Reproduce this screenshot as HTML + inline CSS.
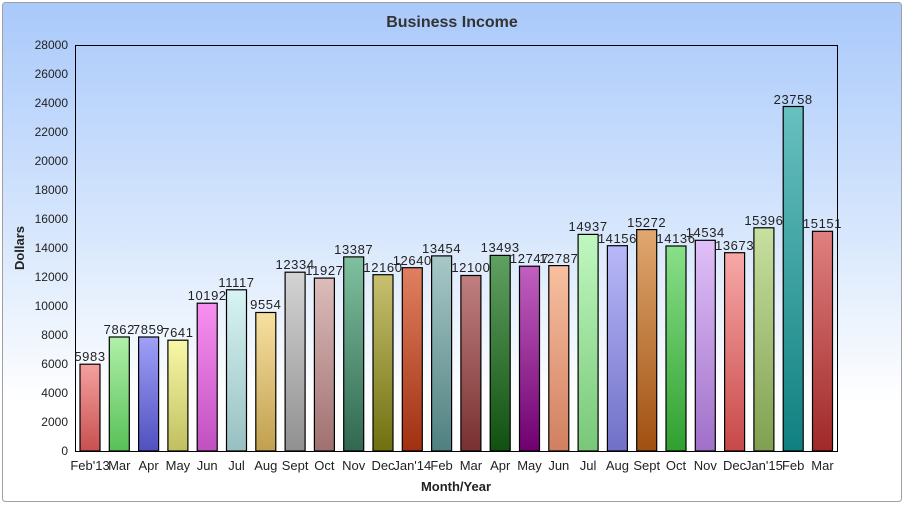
<!DOCTYPE html>
<html><head><meta charset="utf-8"><style>
html,body{margin:0;padding:0;background:#fff;}
svg{display:block;font-family:"Liberation Sans",sans-serif;}
</style></head><body>
<svg width="905" height="507" viewBox="0 0 905 507" xmlns="http://www.w3.org/2000/svg">
<defs>
<linearGradient id="bg" x1="0" y1="0" x2="0" y2="1">
<stop offset="0" stop-color="#a9c9fb"/><stop offset="0.45" stop-color="#d6e6fc"/><stop offset="0.8" stop-color="#ffffff"/><stop offset="1" stop-color="#ffffff"/>
</linearGradient>
<linearGradient id="g0" x1="0" y1="0" x2="0" y2="1"><stop offset="0" stop-color="#f4a0a0"/><stop offset="1" stop-color="#c85050"/></linearGradient>
<linearGradient id="g1" x1="0" y1="0" x2="0" y2="1"><stop offset="0" stop-color="#b0f0a8"/><stop offset="1" stop-color="#58c058"/></linearGradient>
<linearGradient id="g2" x1="0" y1="0" x2="0" y2="1"><stop offset="0" stop-color="#a0a0f8"/><stop offset="1" stop-color="#5050c0"/></linearGradient>
<linearGradient id="g3" x1="0" y1="0" x2="0" y2="1"><stop offset="0" stop-color="#f8f8a8"/><stop offset="1" stop-color="#c0c060"/></linearGradient>
<linearGradient id="g4" x1="0" y1="0" x2="0" y2="1"><stop offset="0" stop-color="#f890f0"/><stop offset="1" stop-color="#c050c0"/></linearGradient>
<linearGradient id="g5" x1="0" y1="0" x2="0" y2="1"><stop offset="0" stop-color="#d8f4f4"/><stop offset="1" stop-color="#98c0c0"/></linearGradient>
<linearGradient id="g6" x1="0" y1="0" x2="0" y2="1"><stop offset="0" stop-color="#f8e0a0"/><stop offset="1" stop-color="#c0a050"/></linearGradient>
<linearGradient id="g7" x1="0" y1="0" x2="0" y2="1"><stop offset="0" stop-color="#d4d4d4"/><stop offset="1" stop-color="#909090"/></linearGradient>
<linearGradient id="g8" x1="0" y1="0" x2="0" y2="1"><stop offset="0" stop-color="#dcbcbc"/><stop offset="1" stop-color="#a07070"/></linearGradient>
<linearGradient id="g9" x1="0" y1="0" x2="0" y2="1"><stop offset="0" stop-color="#80c0a0"/><stop offset="1" stop-color="#306850"/></linearGradient>
<linearGradient id="g10" x1="0" y1="0" x2="0" y2="1"><stop offset="0" stop-color="#c8c070"/><stop offset="1" stop-color="#707010"/></linearGradient>
<linearGradient id="g11" x1="0" y1="0" x2="0" y2="1"><stop offset="0" stop-color="#e08060"/><stop offset="1" stop-color="#a03010"/></linearGradient>
<linearGradient id="g12" x1="0" y1="0" x2="0" y2="1"><stop offset="0" stop-color="#a8c8c8"/><stop offset="1" stop-color="#508080"/></linearGradient>
<linearGradient id="g13" x1="0" y1="0" x2="0" y2="1"><stop offset="0" stop-color="#c08080"/><stop offset="1" stop-color="#783030"/></linearGradient>
<linearGradient id="g14" x1="0" y1="0" x2="0" y2="1"><stop offset="0" stop-color="#60a060"/><stop offset="1" stop-color="#105010"/></linearGradient>
<linearGradient id="g15" x1="0" y1="0" x2="0" y2="1"><stop offset="0" stop-color="#c060c0"/><stop offset="1" stop-color="#700070"/></linearGradient>
<linearGradient id="g16" x1="0" y1="0" x2="0" y2="1"><stop offset="0" stop-color="#f8c0a0"/><stop offset="1" stop-color="#d08060"/></linearGradient>
<linearGradient id="g17" x1="0" y1="0" x2="0" y2="1"><stop offset="0" stop-color="#c0f8c0"/><stop offset="1" stop-color="#78c878"/></linearGradient>
<linearGradient id="g18" x1="0" y1="0" x2="0" y2="1"><stop offset="0" stop-color="#b8b8f8"/><stop offset="1" stop-color="#7070c8"/></linearGradient>
<linearGradient id="g19" x1="0" y1="0" x2="0" y2="1"><stop offset="0" stop-color="#e0a870"/><stop offset="1" stop-color="#a05010"/></linearGradient>
<linearGradient id="g20" x1="0" y1="0" x2="0" y2="1"><stop offset="0" stop-color="#88e088"/><stop offset="1" stop-color="#30a030"/></linearGradient>
<linearGradient id="g21" x1="0" y1="0" x2="0" y2="1"><stop offset="0" stop-color="#e0c0f8"/><stop offset="1" stop-color="#a070c8"/></linearGradient>
<linearGradient id="g22" x1="0" y1="0" x2="0" y2="1"><stop offset="0" stop-color="#f8a8a8"/><stop offset="1" stop-color="#c84848"/></linearGradient>
<linearGradient id="g23" x1="0" y1="0" x2="0" y2="1"><stop offset="0" stop-color="#c8e0a0"/><stop offset="1" stop-color="#80a050"/></linearGradient>
<linearGradient id="g24" x1="0" y1="0" x2="0" y2="1"><stop offset="0" stop-color="#68c0c0"/><stop offset="1" stop-color="#108080"/></linearGradient>
<linearGradient id="g25" x1="0" y1="0" x2="0" y2="1"><stop offset="0" stop-color="#e08080"/><stop offset="1" stop-color="#a02828"/></linearGradient>
</defs>
<rect x="2.5" y="2.5" width="899" height="499" rx="3" fill="url(#bg)" stroke="#a0a0a0" stroke-width="1"/>
<text x="452" y="27" text-anchor="middle" font-size="16" font-weight="bold" fill="#333">Business Income</text>
<g font-size="12" fill="#222" text-anchor="end">
<text x="68" y="455">0</text><text x="68" y="426">2000</text><text x="68" y="397">4000</text><text x="68" y="368">6000</text><text x="68" y="339">8000</text><text x="68" y="310">10000</text><text x="68" y="281">12000</text><text x="68" y="252">14000</text><text x="68" y="223">16000</text><text x="68" y="194">18000</text><text x="68" y="165">20000</text><text x="68" y="136">22000</text><text x="68" y="107">24000</text><text x="68" y="78">26000</text><text x="68" y="49">28000</text>
</g>
<text transform="translate(24,248) rotate(-90)" text-anchor="middle" font-size="13" font-weight="bold" fill="#222">Dollars</text>
<text x="456" y="491" text-anchor="middle" font-size="13" font-weight="bold" fill="#222">Month/Year</text>
<rect x="75.5" y="45.5" width="762" height="406" fill="none" stroke="#000" stroke-width="1"/>
<g stroke="#000" stroke-width="1.2">
<rect x="80" y="364.2" width="20" height="86.8" fill="url(#g0)"/>
<rect x="109.3" y="337" width="20" height="114" fill="url(#g1)"/>
<rect x="138.6" y="337" width="20" height="114" fill="url(#g2)"/>
<rect x="167.9" y="340.2" width="20" height="110.8" fill="url(#g3)"/>
<rect x="197.2" y="303.2" width="20" height="147.8" fill="url(#g4)"/>
<rect x="226.5" y="289.8" width="20" height="161.2" fill="url(#g5)"/>
<rect x="255.8" y="312.5" width="20" height="138.5" fill="url(#g6)"/>
<rect x="285.1" y="272.2" width="20" height="178.8" fill="url(#g7)"/>
<rect x="314.4" y="278.1" width="20" height="172.9" fill="url(#g8)"/>
<rect x="343.7" y="256.9" width="20" height="194.1" fill="url(#g9)"/>
<rect x="373" y="274.7" width="20" height="176.3" fill="url(#g10)"/>
<rect x="402.3" y="267.7" width="20" height="183.3" fill="url(#g11)"/>
<rect x="431.6" y="255.9" width="20" height="195.1" fill="url(#g12)"/>
<rect x="460.9" y="275.5" width="20" height="175.5" fill="url(#g13)"/>
<rect x="490.2" y="255.4" width="20" height="195.6" fill="url(#g14)"/>
<rect x="519.5" y="266.2" width="20" height="184.8" fill="url(#g15)"/>
<rect x="548.8" y="265.6" width="20" height="185.4" fill="url(#g16)"/>
<rect x="578.1" y="234.4" width="20" height="216.6" fill="url(#g17)"/>
<rect x="607.4" y="245.7" width="20" height="205.3" fill="url(#g18)"/>
<rect x="636.7" y="229.6" width="20" height="221.4" fill="url(#g19)"/>
<rect x="666" y="246" width="20" height="205" fill="url(#g20)"/>
<rect x="695.3" y="240.3" width="20" height="210.7" fill="url(#g21)"/>
<rect x="724.6" y="252.7" width="20" height="198.3" fill="url(#g22)"/>
<rect x="753.9" y="227.8" width="20" height="223.2" fill="url(#g23)"/>
<rect x="783.2" y="106.5" width="20" height="344.5" fill="url(#g24)"/>
<rect x="812.5" y="231.3" width="20" height="219.7" fill="url(#g25)"/>
</g>
<g font-size="13" fill="#222" text-anchor="middle" letter-spacing="0.6">
<text x="90" y="361">5983</text><text x="119.3" y="334">7862</text><text x="148.6" y="334">7859</text><text x="177.9" y="337">7641</text><text x="207.2" y="300">10192</text><text x="236.5" y="287">11117</text><text x="265.8" y="309">9554</text><text x="295.1" y="269">12334</text><text x="324.4" y="275">11927</text><text x="353.7" y="254">13387</text><text x="383" y="272">12160</text><text x="412.3" y="265">12640</text><text x="441.6" y="253">13454</text><text x="470.9" y="272">12100</text><text x="500.2" y="252">13493</text><text x="529.5" y="263">12747</text><text x="558.8" y="263">12787</text><text x="588.1" y="231">14937</text><text x="617.4" y="243">14156</text><text x="646.7" y="227">15272</text><text x="676" y="243">14136</text><text x="705.3" y="237">14534</text><text x="734.6" y="250">13673</text><text x="763.9" y="225">15396</text><text x="793.2" y="104">23758</text><text x="822.5" y="228">15151</text>
</g>
<g font-size="13" fill="#222" text-anchor="middle">
<text x="90" y="470">Feb'13</text><text x="119.3" y="470">Mar</text><text x="148.6" y="470">Apr</text><text x="177.9" y="470">May</text><text x="207.2" y="470">Jun</text><text x="236.5" y="470">Jul</text><text x="265.8" y="470">Aug</text><text x="295.1" y="470">Sept</text><text x="324.4" y="470">Oct</text><text x="353.7" y="470">Nov</text><text x="383" y="470">Dec</text><text x="412.3" y="470">Jan'14</text><text x="441.6" y="470">Feb</text><text x="470.9" y="470">Mar</text><text x="500.2" y="470">Apr</text><text x="529.5" y="470">May</text><text x="558.8" y="470">Jun</text><text x="588.1" y="470">Jul</text><text x="617.4" y="470">Aug</text><text x="646.7" y="470">Sept</text><text x="676" y="470">Oct</text><text x="705.3" y="470">Nov</text><text x="734.6" y="470">Dec</text><text x="763.9" y="470">Jan'15</text><text x="793.2" y="470">Feb</text><text x="822.5" y="470">Mar</text>
</g>
</svg>
</body></html>
